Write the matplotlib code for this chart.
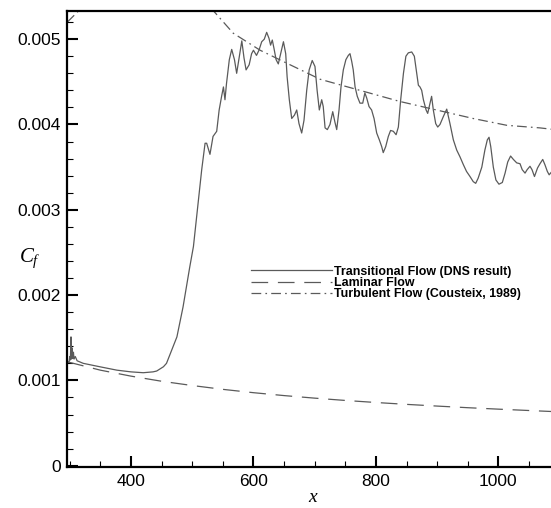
import numpy as np
import matplotlib
matplotlib.use('Agg')
import matplotlib.pyplot as plt
from matplotlib.ticker import MultipleLocator

# DNS skin friction
dns_x = [297, 299, 300, 301, 302, 303, 304, 305, 306, 307, 309, 312, 322, 349, 377, 400, 420,
         436, 442, 453, 458, 469, 475, 485, 496, 502, 510, 515.5, 521, 523.6, 529, 534, 540,
         544, 548, 551, 553.5, 556, 560.6, 564.5, 569, 572.6, 577, 581, 584.6, 588, 593, 597,
         600, 605, 609, 613.5, 617.7, 621.6, 625.4, 628, 630.8, 633.6, 637, 640.6, 644.5, 649,
         652.7, 655, 658.6, 662.5, 667, 670.7, 674.4, 678.8, 682.6, 687, 691, 696, 700.5, 704,
         707.6, 711.5, 714, 717, 720.7, 725, 729.5, 733, 736, 739.8, 743, 746.8, 751, 755,
         757.7, 760.5, 763, 766, 769.6, 774, 778.5, 782, 785, 788.8, 793, 797, 801.3, 805.6,
         809.5, 812, 816, 820.3, 824, 828.5, 833, 836.7, 840.5, 845, 849, 853, 858.5, 862.8,
         866.7, 869.4, 872, 874.8, 877.6, 882, 884.6, 888.4, 891, 893.8, 897.7, 901, 904.7,
         910, 915.7, 921, 926.5, 932, 937.4, 942.8, 948, 953.7, 959, 963, 967, 973, 978, 982,
         984.8, 987.6, 991.8, 996, 1001, 1006.5, 1011, 1015.3, 1020, 1024.6, 1030, 1035.4,
         1039, 1043.6, 1047, 1051.7, 1055, 1059, 1064, 1068, 1072.5, 1076, 1080, 1083, 1090]
dns_cf = [0.00121, 0.00122, 0.00128, 0.00124, 0.00151, 0.00125, 0.00138, 0.00126, 0.00133,
          0.00125, 0.00128, 0.00123, 0.00120, 0.00116, 0.00112, 0.00110, 0.00109,
          0.00110, 0.00111, 0.00116, 0.00120, 0.00140, 0.00151, 0.00186, 0.00233, 0.00257,
          0.00311, 0.00347, 0.00378, 0.00378, 0.00365, 0.00386, 0.00392,
          0.00417, 0.00433, 0.00444, 0.00429, 0.00448, 0.00476, 0.00488, 0.00476, 0.00460,
          0.00480, 0.00498, 0.00478, 0.00464, 0.00470, 0.00483,
          0.00487, 0.00481, 0.00487, 0.00497, 0.00500, 0.00508, 0.00501, 0.00493, 0.00499,
          0.00489, 0.00476, 0.00471, 0.00483, 0.00497,
          0.00483, 0.00456, 0.00429, 0.00407, 0.00411, 0.00417, 0.00401, 0.00390, 0.00405,
          0.00440, 0.00464, 0.00475, 0.00468, 0.00440,
          0.00417, 0.00429, 0.00421, 0.00396, 0.00394, 0.00400, 0.00415, 0.00403, 0.00394,
          0.00417, 0.00444, 0.00464, 0.00476, 0.00481,
          0.00483, 0.00474, 0.00464, 0.00444, 0.00433, 0.00425, 0.00425, 0.00437, 0.00431,
          0.00421, 0.00417, 0.00407, 0.00390, 0.00382,
          0.00374, 0.00367, 0.00374, 0.00386, 0.00393, 0.00392, 0.00388, 0.00397, 0.00429,
          0.00460, 0.00480, 0.00484, 0.00485, 0.00480,
          0.00460, 0.00446, 0.00444, 0.00440, 0.00429, 0.00417, 0.00413, 0.00425, 0.00433,
          0.00417, 0.00401, 0.00397, 0.00400,
          0.00409, 0.00418, 0.00401, 0.00382, 0.00370, 0.00362, 0.00353, 0.00345, 0.00339,
          0.00333, 0.00331, 0.00337, 0.00350, 0.00370, 0.00382,
          0.00385, 0.00374, 0.00350, 0.00335, 0.00330, 0.00332, 0.00343, 0.00356, 0.00363,
          0.00359, 0.00355, 0.00354,
          0.00347, 0.00343, 0.00347, 0.00351, 0.00347, 0.00339, 0.00349, 0.00354, 0.00359,
          0.00353, 0.00345, 0.00341, 0.00347]

# laminar flow
lam_x = [296, 350, 400, 450, 500, 550, 600, 650, 700, 750, 800, 850, 900, 950, 1000, 1050, 1104]
lam_cf = [0.001218, 0.00112, 0.00105, 0.00099, 0.00094, 0.000895, 0.000856, 0.000822,
          0.000792, 0.000765, 0.000741, 0.000719, 0.000699, 0.00068, 0.000663, 0.000647, 0.00063]

# turbulent flow (Cousteix) - piece at the top left corner, then the main curve
turb_x = [296, 317, np.nan, 530, 567, 611, 654, 709, 774, 839, 899, 959, 1014, 1068, 1104]
turb_cf = [0.00520, 0.00535, np.nan, 0.00537, 0.00507, 0.00487, 0.00472, 0.00453, 0.00440,
           0.00427, 0.00417, 0.00407, 0.00399, 0.00396, 0.00393]

yticks = [0, 0.001, 0.002, 0.003, 0.004, 0.005]
ytick_labels = ['0', '0.001', '0.002', '0.003', '0.004', '0.005']
xticks = [400, 600, 800, 1000]
legend_labels = ['Transitional Flow (DNS result)', 'Laminar Flow', 'Turbulent Flow (Cousteix, 1989)']

plt.rcParams['font.family'] = 'Liberation Sans'
plt.rcParams['lines.scale_dashes'] = False
plt.rcParams['mathtext.fontset'] = 'custom'
plt.rcParams['mathtext.it'] = 'Liberation Serif:italic'
plt.rcParams['mathtext.rm'] = 'Liberation Serif'

fig = plt.figure(figsize=(5.51, 5.08), dpi=100)
ax = fig.add_axes([0.1225, 0.0801, 0.8975, 0.8982])

lc = '#5a5a5a'
ax.plot(dns_x, dns_cf, color=lc, lw=0.9, label=legend_labels[0])
ax.plot(lam_x, lam_cf, color=lc, lw=0.9, dashes=(12, 7), label=legend_labels[1])
ax.plot(turb_x, turb_cf, color=lc, lw=0.9, dashes=(7, 3, 1.2, 3), label=legend_labels[2])

ax.set_xlim(296.3, 1104)
ax.set_ylim(-0.0000188, 0.00533)
ax.set_xticks(xticks)
ax.set_yticks(yticks)
ax.set_yticklabels(ytick_labels)
ax.xaxis.set_minor_locator(MultipleLocator(50))
ax.yaxis.set_minor_locator(MultipleLocator(0.0002))

ax.tick_params(which='both', direction='in', top=False, right=False, labelsize=12.5, colors='black')
ax.tick_params(which='major', length=8, width=1.5, pad=5)
ax.tick_params(which='minor', length=4.5, width=0.8)
for s in ['left', 'bottom', 'top']:
    ax.spines[s].set_linewidth(1.6)
ax.spines['right'].set_visible(False)

ax.set_xlabel('$x$', fontsize=14, va='center', ha='center')
ax.xaxis.set_label_coords(0.4965, -0.066)
ax.set_ylabel('$C_f$', fontsize=15, rotation=0, va='center', ha='center')
ax.yaxis.set_label_coords(-0.076, 0.459)

leg = ax.legend(loc='upper left', bbox_to_anchor=(0.3705, 0.442), frameon=False,
                borderpad=0, borderaxespad=0, handlelength=6.6, handletextpad=0.15,
                labelspacing=-0.05, prop={'weight': 'bold', 'size': 8.9})

fig.savefig('out.png', dpi=100)
